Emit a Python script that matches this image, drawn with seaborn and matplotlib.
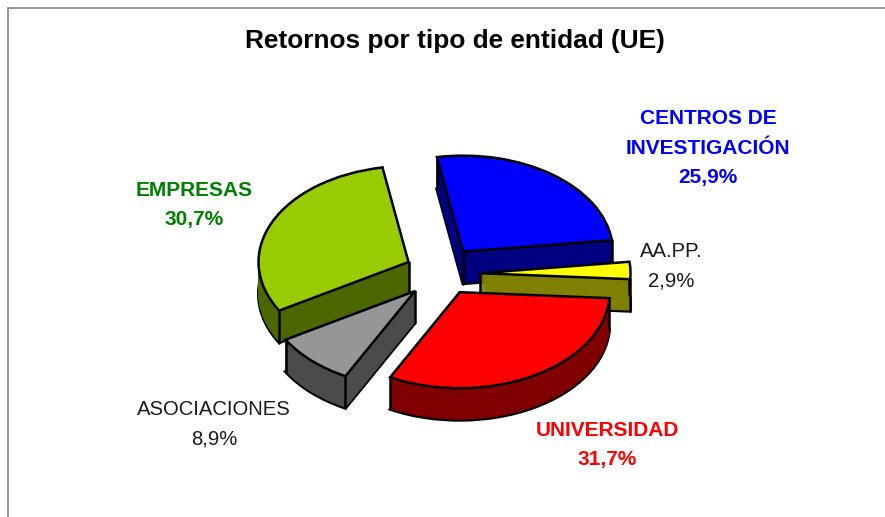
import numpy as np
import matplotlib
matplotlib.use("Agg")
import matplotlib.pyplot as plt
from matplotlib.lines import Line2D
import seaborn as sns

# Data, clockwise from the top
categories = ["CENTROS DE\nINVESTIGACIÓN", "AA.PP.", "UNIVERSIDAD", "ASOCIACIONES", "EMPRESAS"]
shares = [25.9, 2.9, 31.7, 8.9, 30.7]
value_labels = ["25,9%", "2,9%", "31,7%", "8,9%", "30,7%"]
title_text = "Retornos por tipo de entidad (UE)"

# Styles
top_colors = sns.color_palette(["#0000FF", "#FFFF00", "#FF0000", "#969696", "#99CC00"])
side_colors = sns.color_palette(["#000080", "#808000", "#800000", "#4B4B4B", "#4C6600"])
label_colors = ["#0000FF", "#1a1a1a", "#FF0000", "#1a1a1a", "#008000"]
label_weights = ["bold", "normal", "bold", "normal", "bold"]
label_sizes = [15, 14.6, 15, 14.6, 15]
label_xy_px = [(708, 148), (671, 266), (607, 445), (214, 424), (194, 205)]
explode = [0.29, 0.29, 0.27, 0.26, 0.24]
nudge_px = [(0, 0), (0, 0), (2.75, -4.4), (4.8, -1), (4.2, -2.3)]
draw_rank = [1, 2, 5, 4, 3]

W, H = 885, 517
CX, CY = 437, 274     # pie centre in pixels
RX, RY = 150, 96      # ellipse radii in pixels
DEPTH_PX = 32
LW = 1.8

sns.set_theme(style="white")
plt.rcParams["font.family"] = ["Liberation Sans", "DejaVu Sans"]

fig = plt.figure(figsize=(W / 100, H / 100), dpi=100, facecolor="white")
ax = fig.add_axes([0, 0, 1, 1])

depth = DEPTH_PX / RY
pie_args = dict(x=shares, explode=explode, startangle=100, counterclock=False, radius=1)


def place(wedges):
    for w, (dx, dy) in zip(wedges, nudge_px):
        cx, cy = w.center
        w.set_center((cx + dx / RX, cy - dy / RY))


# Extruded body: stacked pies, lowest first
for k in range(DEPTH_PX + 1):
    y0 = -depth * (1 - k / DEPTH_PX)
    is_bottom = k == 0
    wedges, _ = ax.pie(center=(0, y0), colors=side_colors, **pie_args,
                       wedgeprops=dict(linewidth=LW + 0.4 if is_bottom else 0.6))
    place(wedges)
    for w, rank, c in zip(wedges, draw_rank, side_colors):
        w.set_edgecolor("black" if is_bottom else c)
        w.set_zorder(rank + 0.1 + 0.001 * k)

# Top faces
tops, _ = ax.pie(center=(0, 0), colors=top_colors, **pie_args,
                 wedgeprops=dict(linewidth=LW, edgecolor="black", joinstyle="miter"))
place(tops)
for w, rank in zip(tops, draw_rank):
    w.set_zorder(rank + 0.5)
    cx, cy = w.center
    for x, y in [(cx, cy)] + [(cx + w.r * np.cos(np.radians(t)), cy + w.r * np.sin(np.radians(t)))
                              for t in (w.theta1, w.theta2)]:
        ax.plot([x, x], [y, y - depth], color="black", lw=LW, zorder=rank + 0.4,
                solid_capstyle="round")

ax.set_aspect("auto")
ax.set_xlim(-CX / RX, (W - CX) / RX)
ax.set_ylim((CY - H) / RY, CY / RY)
ax.set_axis_off()


def px(x, y):
    return x / W, 1 - y / H


# Chart frame (gray, open at right and bottom because of the crop)
for xs, ys in [((8, 8), (8, H)), ((8, W), (8, 8))]:
    fig.add_artist(Line2D([x / W for x in xs], [1 - y / H for y in ys], color="#8c8c8c", lw=1.3))

fig.text(*px(455, 41), title_text, ha="center", va="center", fontsize=18.9,
         fontweight="bold", color="black")

for cat, val, col, wgt, size, (x, y) in zip(categories, value_labels, label_colors,
                                            label_weights, label_sizes, label_xy_px):
    fig.text(*px(x, y), f"{cat}\n{val}", ha="center", va="center", ma="center",
             fontsize=size, fontweight=wgt, color=col, linespacing=1.7)

fig.savefig("out.png", dpi=100, facecolor="white")
